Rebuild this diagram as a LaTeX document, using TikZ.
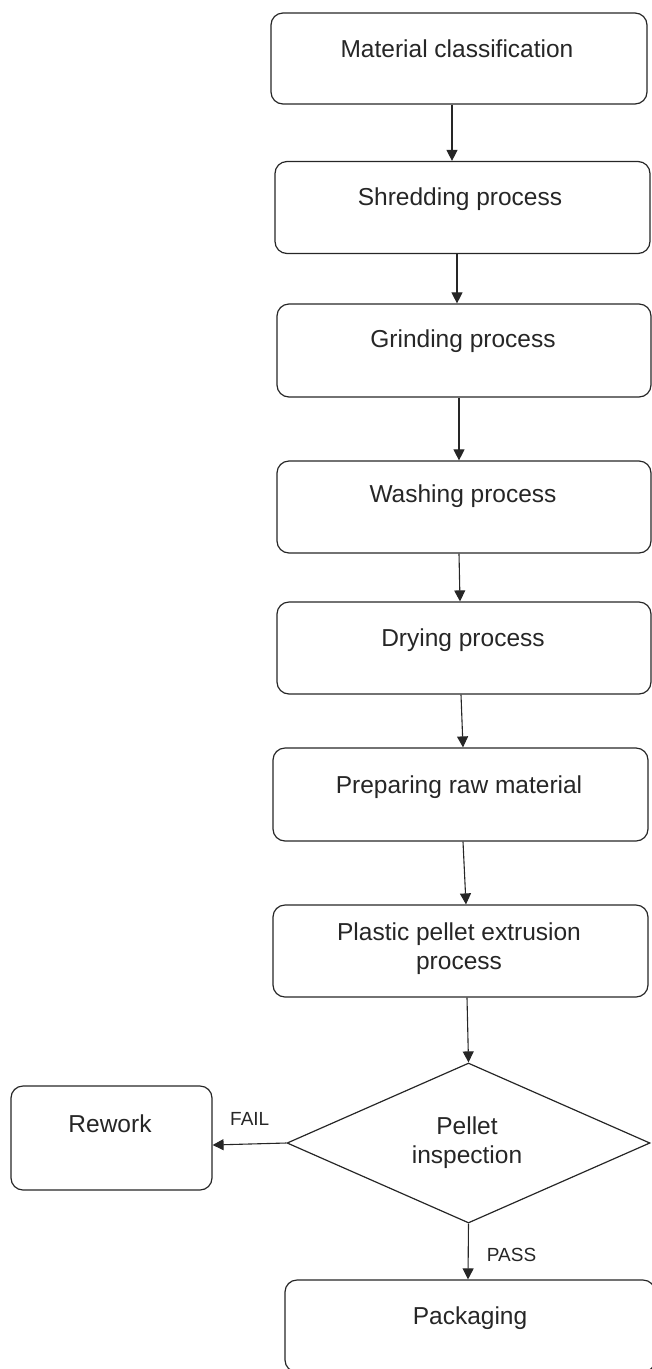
\documentclass[tikz,border=0pt]{standalone}
\usepackage{fontspec}
\setmainfont{Liberation Sans}
\usetikzlibrary{arrows.meta,shapes.geometric}
\tikzset{
  procbox/.style={draw=black!85, line width=1.2pt, rounded corners=12pt, inner sep=0pt, minimum width=375pt, minimum height=92pt},
  decbox/.style={draw=black!85, line width=1.2pt, shape=diamond, inner sep=0pt, minimum width=363pt, minimum height=160pt},
  lbl/.style={font=\fontsize{24.5}{29}\selectfont, text=black!85, align=center, inner sep=0pt},
  small/.style={font=\fontsize{19}{23}\selectfont, text=black!85, inner sep=0pt},
  arr/.style={draw=black!85, line width=1.1pt, -{Triangle[length=11pt,width=11pt]}},
}
\begin{document}
\begin{tikzpicture}[x=1pt,y=-1pt]
\useasboundingbox (0,0) rectangle (652,1369);
\clip (0,0) rectangle (652,1369);
% boxes
\node[procbox, minimum width=376pt, minimum height=91pt] (b1) at (459,58.5) {};
\node[procbox] (b2) at (462.5,207.5) {};
\node[procbox, minimum width=374pt, minimum height=93pt] (b3) at (464,350.5) {};
\node[procbox, minimum width=374pt] (b4) at (464,507) {};
\node[procbox, minimum width=374pt] (b5) at (464,648) {};
\node[procbox, minimum height=93pt] (b6) at (460.5,794.5) {};
\node[procbox] (b7) at (460.5,951) {};
\node[decbox] (d) at (468.5,1143) {};
\node[procbox, minimum width=201pt, minimum height=104pt] (rw) at (111.5,1138) {};
\node[procbox, minimum width=370pt, minimum height=92pt] (pk) at (470,1326) {};
% texts
\node[lbl, anchor=base] (t1) at (457,57) {Material classification};
\node[lbl, anchor=base] (t2) at (460,205.5) {Shredding process};
\node[lbl, anchor=base] (t3) at (463,347) {Grinding process};
\node[lbl, anchor=base] (t4) at (463,502.7) {Washing process};
\node[lbl, anchor=base] (t5) at (463,646.7) {Drying process};
\node[lbl, anchor=base] (t6) at (459,793.3) {Preparing raw material};
\node[lbl] (t7) at (459,948.9) {Plastic pellet extrusion\\process};
\node[lbl] (td) at (467,1142.6) {Pellet\\inspection};
\node[lbl, anchor=base] (tr) at (110,1132.3) {Rework};
\node[lbl, anchor=base] (tp) at (470,1324) {Packaging};
\node[small, anchor=base west] (fail) at (230,1125) {FAIL};
\node[small, anchor=base west] (pass) at (486.7,1261.7) {PASS};
% connectors
\draw[arr] ([xshift=-7pt]b1.south) -- ([xshift=-10.5pt]b2.north);
\draw[arr] ([xshift=-5.5pt]b2.south) -- ([xshift=-7pt]b3.north);
\draw[arr] ([xshift=-5pt]b3.south) -- ([xshift=-5pt]b4.north);
\draw[arr] ([xshift=-5pt]b4.south) -- ([xshift=-4pt]b5.north);
\draw[arr] ([xshift=-3pt]b5.south) -- ([xshift=2.5pt]b6.north);
\draw[arr] ([xshift=2.5pt]b6.south) -- ([xshift=5.5pt]b7.north);
\draw[arr] ([xshift=6.5pt]b7.south) -- (d.north);
\draw[arr] (d.west) -- ([yshift=-7pt]rw.east);
\draw[arr] (d.south) -- ([xshift=-2pt]pk.north);
\end{tikzpicture}
\end{document}
